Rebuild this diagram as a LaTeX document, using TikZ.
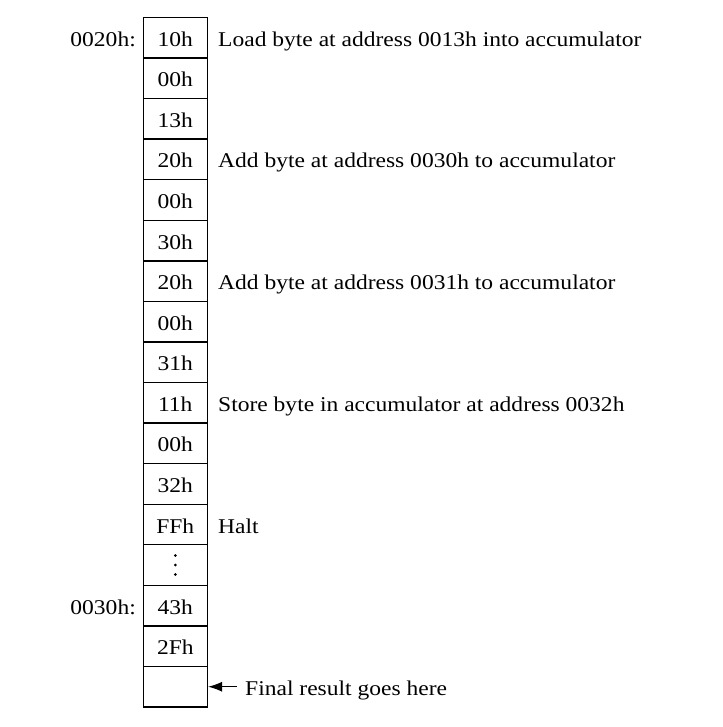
\documentclass[tikz,border=0pt]{standalone}
\usepackage{fontspec}
\setmainfont[FakeStretch=1.12]{Liberation Serif}
\usetikzlibrary{arrows.meta}
\begin{document}
\begin{tikzpicture}[x=1pt,y=-1pt,
  cellbox/.style={draw,line width=1.4pt,minimum width=64pt,minimum height=40.56pt,inner sep=0pt,anchor=center},
  celltext/.style={font=\fontsize{21}{25}\selectfont},
  desc/.style={anchor=base west,inner sep=0pt,font=\fontsize{21}{25}\selectfont},
  addr/.style={anchor=base east,inner sep=0pt,font=\fontsize{21}{25}\selectfont},
  dot/.style={fill,circle,inner sep=0pt,minimum size=3pt}]
\useasboundingbox (0,0) rectangle (722,727);
\foreach \i/\t in {0/10h,1/00h,2/13h,3/20h,4/00h,5/30h,6/20h,7/00h,8/31h,9/11h,10/00h,11/32h,12/FFh,13/{},14/43h,15/2Fh,16/{}} {
  \node[cellbox] (c\i) at (175.3,{17.5+40.56*(\i+0.5)}) {};
  \node[celltext,anchor=base,inner sep=0pt] (t\i) at (175.3,{17.5+40.56*(\i+0.5)+8.5}) {\t};
}
\node[dot] (v1) at (175.3,555.5) {};
\node[dot] (v2) at (175.3,565) {};
\node[dot] (v3) at (175.3,574.5) {};
\node[addr] (a0) at (136,{17.5+40.56*0.5+8.5}) {0020h:};
\node[addr] (a14) at (136,{17.5+40.56*14.5+8.5}) {0030h:};
\node[desc] (d0) at (218,{17.5+40.56*0.5+8.5}) {Load byte at address 0013h into accumulator};
\node[desc] (d3) at (218,{17.5+40.56*3.5+8.5}) {Add byte at address 0030h to accumulator};
\node[desc] (d6) at (218,{17.5+40.56*6.5+8.5}) {Add byte at address 0031h to accumulator};
\node[desc] (d9) at (218,{17.5+40.56*9.5+8.5}) {Store byte in accumulator at address 0032h};
\node[desc] (d12) at (218,{17.5+40.56*12.5+8.5}) {Halt};
\node[desc] (d16) at (245,{17.5+40.56*16.5+8.5}) {Final result goes here};
\coordinate (arrstart) at (237,{17.5+40.56*16.5});
\draw[line width=1.5pt,-{Latex[length=14pt,width=10pt]}] (arrstart) -- (c16.east);
\end{tikzpicture}
\end{document}
